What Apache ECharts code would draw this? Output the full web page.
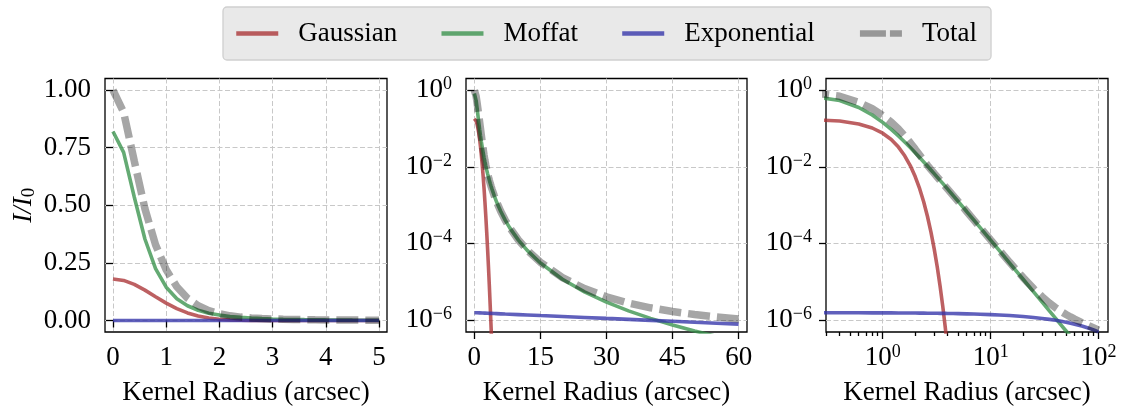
<!DOCTYPE html>
<html>
<head>
<meta charset="utf-8">
<script src="https://cdn.jsdelivr.net/npm/echarts@6/dist/echarts.min.js"></script>
<style>
  html, body { margin: 0; padding: 0; background: #ffffff; }
  #chart { width: 1121px; height: 407px; }
</style>
</head>
<body>
<div id="chart"></div>
<script>
// Radial profile samples (arcsec) shared by all three panels
const radius = [0, 0.2, 0.4, 0.6, 0.8, 1.0, 1.2, 1.4, 1.6, 1.8, 2.0, 2.2, 2.4, 2.6, 2.8, 3.0,
  3.2, 3.4, 3.6, 3.8, 4.0, 4.5, 5, 6, 7, 8, 10, 12, 15, 20, 25, 30, 35, 40, 45, 50, 55, 60,
  70, 80, 90, 100];

// Normalised intensity I/I0 of each kernel component
const gaussian = [0.18, 0.1738, 0.1566, 0.1316, 0.1032, 0.0754, 0.0515, 0.0327, 0.0194,
  0.01076, 0.005555, 0.002675, 0.001203, 5.04e-4, 1.97e-4, 7.19e-5, 2.45e-5, 7.76e-6,
  2.30e-6, 6.34e-7, 1.63e-7, 4.05e-9, 6.5e-11];

const moffat = [0.82, 0.7296, 0.5358, 0.3536, 0.2253, 0.1444, 0.0947, 0.0640, 0.0445,
  0.0318, 0.02335, 0.01752, 0.01341, 0.01045, 0.00827, 0.006636, 0.005394, 0.004434,
  0.003682, 0.003086, 0.002609, 0.001770, 0.001247, 6.79e-4, 4.05e-4, 2.583e-4, 1.215e-4,
  6.55e-5, 3.07e-5, 1.159e-5, 5.43e-6, 2.93e-6, 1.73e-6, 1.10e-6, 7.37e-7, 5.15e-7,
  3.73e-7, 2.77e-7, 1.64e-7, 1.04e-7, 6.97e-8, 4.87e-8];

const exponential = [1.550e-6, 1.546e-6, 1.543e-6, 1.539e-6, 1.536e-6, 1.532e-6, 1.529e-6,
  1.525e-6, 1.522e-6, 1.518e-6, 1.515e-6, 1.511e-6, 1.508e-6, 1.504e-6, 1.501e-6, 1.497e-6,
  1.494e-6, 1.491e-6, 1.487e-6, 1.484e-6, 1.480e-6, 1.472e-6, 1.464e-6, 1.447e-6, 1.430e-6,
  1.414e-6, 1.382e-6, 1.350e-6, 1.304e-6, 1.232e-6, 1.163e-6, 1.098e-6, 1.037e-6, 0.979e-6,
  0.924e-6, 0.872e-6, 0.824e-6, 0.778e-6, 0.693e-6, 0.618e-6, 0.551e-6, 0.491e-6];

const total = [1.0, 0.9034, 0.6924, 0.4852, 0.3285, 0.2198, 0.1462, 0.0967, 0.0639, 0.0426,
  0.02891, 0.02020, 0.01461, 0.01095, 0.008467, 0.006709, 0.005420, 0.004443, 0.003686,
  0.003087, 0.002611, 0.001772, 0.001249, 6.80e-4, 4.06e-4, 2.597e-4, 1.229e-4, 6.69e-5,
  3.20e-5, 1.282e-5, 6.59e-6, 4.03e-6, 2.77e-6, 2.08e-6, 1.66e-6, 1.39e-6, 1.20e-6,
  1.055e-6, 8.57e-7, 7.22e-7, 6.21e-7, 5.40e-7];

const seriesNames = ['Gaussian', 'Moffat', 'Exponential', 'Total'];

// Largest radius drawn in each panel
const panelMaxRadius = [5, 60, 100];

// Tick positions
const linearXTicks = [0, 1, 2, 3, 4, 5];
const linearYTicks = [0, 0.25, 0.5, 0.75, 1.0];
const midXTicks = [0, 15, 30, 45, 60];
const logYTicks = [1e-6, 1e-4, 1e-2, 1];
const logXTicks = [1, 10, 100];
const logXMinorTicks = [0.3, 0.4, 0.5, 0.6, 0.7, 0.8, 0.9, 2, 3, 4, 5, 6, 7, 8, 9,
  20, 30, 40, 50, 60, 70, 80, 90];

const FONT = "'Liberation Serif', 'Times New Roman', serif";
const TEXT = '#000000';

const styles = {
  Gaussian:    { color: '#ab3336', width: 3.6, opacity: 0.78, type: 'solid' },
  Moffat:      { color: '#38924c', width: 3.6, opacity: 0.78, type: 'solid' },
  Exponential: { color: '#3333a9', width: 3.6, opacity: 0.78, type: 'solid' },
  Total:       { color: '#000000', width: 7.5, opacity: 0.35, type: [22, 7] }
};
const values = { Gaussian: gaussian, Moffat: moffat, Exponential: exponential, Total: total };

function pairs(vals, positiveOnly, maxR) {
  const out = [];
  for (let i = 0; i < radius.length; i++) {
    if (vals[i] == null) continue;
    if (positiveOnly && radius[i] <= 0) continue;
    if (radius[i] > maxR) continue;
    out.push([radius[i], vals[i]]);
  }
  return out;
}

function powLabel(v) {
  const e = Math.round(Math.log10(v));
  return '{b|10}{s|' + (e < 0 ? '\u2212' + (-e) : String(e)) + '}';
}
const powRich = {
  b: { fontSize: 27, fontFamily: FONT, color: TEXT, lineHeight: 30 },
  s: { fontSize: 18, fontFamily: FONT, color: TEXT, lineHeight: 18, verticalAlign: 'top' }
};

const splitLine = { show: true, lineStyle: { color: '#c8c8c8', width: 1, type: [5, 2.5] } };
const tick = (vals, len) => ({ show: true, length: len || 7, inside: false, customValues: vals,
  lineStyle: { color: '#000', width: 1.3 } });

function xAxisCfg(gridIndex, extra) {
  return Object.assign({
    gridIndex: gridIndex,
    position: 'bottom',
    axisLine: { show: false },
    splitLine: splitLine,
    name: 'Kernel Radius (arcsec)',
    nameLocation: 'middle',
    nameGap: 46,
    nameTextStyle: { fontSize: 27, fontFamily: FONT, color: TEXT, lineHeight: 30 }
  }, extra);
}
function yAxisCfg(gridIndex, extra) {
  return Object.assign({
    gridIndex: gridIndex,
    axisLine: { show: false },
    splitLine: splitLine
  }, extra);
}

const LOG_Y_MIN = 4.853e-7, LOG_Y_MAX = 2.023;

const option = {
  animation: false,
  backgroundColor: '#ffffff',
  legend: {
    data: seriesNames.map(name => ({
      name: name,
      lineStyle: { width: name === 'Total' ? 6.5 : 4.5, type: styles[name].type === 'solid' ? 'solid' : [26, 4] }
    })),
    left: 223,
    top: 7,
    padding: [12, 14, 12, 11],
    itemGap: 42,
    itemWidth: 42,
    itemHeight: 14,
    itemStyle: { opacity: 0 },
    backgroundColor: '#e9e9e9',
    borderColor: '#cfcfcf',
    borderWidth: 1.3,
    borderRadius: 4,
    textStyle: { fontSize: 27, fontFamily: FONT, color: TEXT, lineHeight: 29, padding: [0, 0, 0, 15] }
  },
  grid: [
    { left: 105, top: 78.5, width: 282, height: 253.5 },
    { left: 466, top: 78.5, width: 281, height: 253.5 },
    { left: 826, top: 78.5, width: 282, height: 253.5 }
  ].map(g => Object.assign(g, { show: true, borderColor: '#000', borderWidth: 1.3,
    backgroundColor: 'transparent', containLabel: false, outerBoundsMode: 'none' })),
  xAxis: [
    xAxisCfg(0, { type: 'value', min: -0.15, max: 5.15,
      axisTick: tick(linearXTicks),
      axisLabel: { customValues: linearXTicks, margin: 12, fontSize: 27, fontFamily: FONT, color: TEXT } }),
    xAxisCfg(1, { type: 'value', min: -1.9, max: 61.9,
      axisTick: tick(midXTicks),
      axisLabel: { customValues: midXTicks, margin: 12, fontSize: 27, fontFamily: FONT, color: TEXT } }),
    xAxisCfg(2, { type: 'log', logBase: 10, min: 0.2985, max: 122.2,
      axisTick: tick(logXTicks),
      axisLabel: { customValues: logXTicks, margin: 11, formatter: powLabel, rich: powRich } }),
    // minor ticks of the logarithmic radius axis
    { type: 'log', logBase: 10, gridIndex: 2, position: 'bottom', min: 0.2985, max: 122.2,
      axisLine: { show: false }, splitLine: { show: false }, axisLabel: { show: false },
      axisTick: tick(logXMinorTicks, 4) }
  ],
  yAxis: [
    yAxisCfg(0, { type: 'value', min: -0.05, max: 1.05,
      axisTick: tick(linearYTicks),
      axisLabel: { customValues: linearYTicks, margin: 14, fontSize: 27, fontFamily: FONT, color: TEXT,
        formatter: v => v.toFixed(2) },
      name: '{i|I/I}{sub|0}',
      nameLocation: 'middle',
      nameRotate: 90,
      nameGap: 66,
      nameTextStyle: { rich: {
        i: { fontSize: 27, fontFamily: FONT, fontStyle: 'italic', color: TEXT, lineHeight: 30 },
        sub: { fontSize: 19, fontFamily: FONT, color: TEXT, lineHeight: 18, verticalAlign: 'bottom' }
      } } }),
    yAxisCfg(1, { type: 'log', logBase: 10, min: LOG_Y_MIN, max: LOG_Y_MAX,
      axisTick: tick(logYTicks),
      axisLabel: { customValues: logYTicks, margin: 14, formatter: powLabel, rich: powRich } }),
    yAxisCfg(2, { type: 'log', logBase: 10, min: LOG_Y_MIN, max: LOG_Y_MAX,
      axisTick: tick(logYTicks),
      axisLabel: { customValues: logYTicks, margin: 14, formatter: powLabel, rich: powRich } })
  ],
  series: []
};

// one set of curves per panel; the third panel has a logarithmic radius axis
for (let p = 0; p < 3; p++) {
  seriesNames.forEach(name => {
    const s = styles[name];
    option.series.push({
      name: name,
      type: 'line',
      xAxisIndex: p,
      yAxisIndex: p,
      data: pairs(values[name], p === 2, panelMaxRadius[p]),
      symbol: 'none',
      smooth: false,
      clip: true,
      z: name === 'Total' ? 4 : 3,
      lineStyle: { color: s.color, width: s.width, opacity: s.opacity, type: s.type, cap: 'butt' },
      itemStyle: { color: s.color, opacity: s.opacity }
    });
  });
}

const chart = echarts.init(document.getElementById('chart'), null, { renderer: 'canvas' });
chart.setOption(option);
</script>
</body>
</html>
